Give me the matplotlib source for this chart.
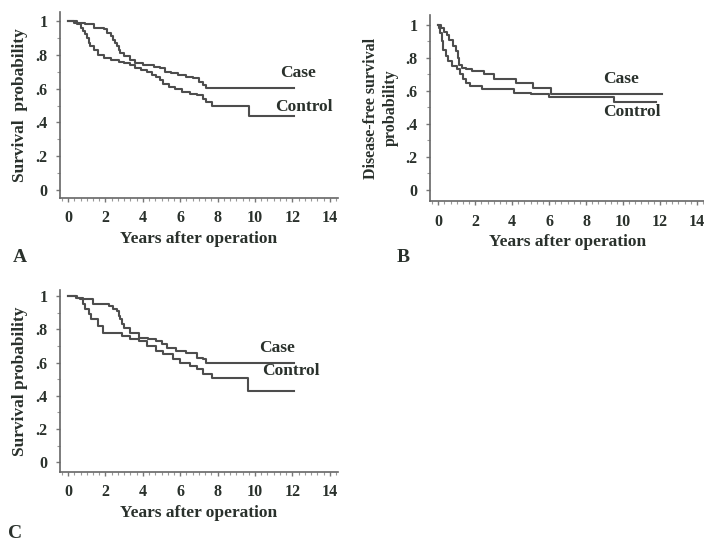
import numpy as np
import matplotlib.pyplot as plt
from matplotlib.ticker import MultipleLocator, FixedLocator

# panel A: overall survival
a_case_t = [0.3, 0.9, 1.4, 1.9, 2.1, 2.3, 2.4, 2.5, 2.6, 2.7, 2.8, 3.0, 3.3, 3.6, 4.0,
            4.6, 4.9, 5.2, 5.5, 5.9, 6.3, 6.7, 7.0, 7.2, 7.4]
a_case_s = [0.99, 0.98, 0.96, 0.95, 0.93, 0.91, 0.89, 0.87, 0.85, 0.83, 0.81, 0.79, 0.77,
            0.75, 0.74, 0.73, 0.72, 0.70, 0.69, 0.68, 0.67, 0.66, 0.64, 0.62, 0.605]
a_ctrl_t = [0.5, 0.7, 0.8, 0.9, 1.0, 1.1, 1.2, 1.4, 1.6, 1.9, 2.3, 2.7, 3.0, 3.3, 3.6,
            3.9, 4.2, 4.5, 4.7, 4.9, 5.1, 5.4, 5.7, 6.1, 6.5, 6.9, 7.2, 7.4, 7.7, 9.7]
a_ctrl_s = [0.98, 0.96, 0.94, 0.92, 0.90, 0.87, 0.85, 0.83, 0.80, 0.78, 0.77, 0.76, 0.75,
            0.74, 0.72, 0.71, 0.70, 0.68, 0.67, 0.65, 0.63, 0.61, 0.60, 0.58, 0.57, 0.56,
            0.54, 0.52, 0.50, 0.44]

# panel B: disease-free survival
b_case_t = [0.15, 0.3, 0.45, 0.6, 0.8, 0.95, 1.05, 1.1, 1.3, 1.5, 1.85, 2.5, 3.0, 4.2,
            5.1, 6.1]
b_case_s = [0.98, 0.96, 0.94, 0.91, 0.87, 0.84, 0.80, 0.76, 0.74, 0.73, 0.72, 0.70,
            0.67, 0.65, 0.62, 0.58]
b_ctrl_t = [0.05, 0.1, 0.2, 0.27, 0.4, 0.54, 0.75, 1.0, 1.2, 1.35, 1.5, 1.7, 2.35, 4.1,
            5.0, 6.0, 9.5]
b_ctrl_s = [0.98, 0.95, 0.90, 0.85, 0.81, 0.78, 0.75, 0.73, 0.70, 0.67, 0.65, 0.63,
            0.61, 0.59, 0.58, 0.565, 0.53]

# panel C: survival
c_case_t = [0.4, 0.8, 1.35, 2.2, 2.4, 2.6, 2.7, 2.8, 2.9, 3.0, 3.3, 3.8, 4.3, 4.7, 5.0,
            5.3, 5.8, 6.3, 6.9, 7.2, 7.4]
c_case_s = [0.99, 0.98, 0.95, 0.94, 0.92, 0.91, 0.88, 0.86, 0.83, 0.81, 0.78, 0.75,
            0.74, 0.73, 0.71, 0.69, 0.67, 0.66, 0.63, 0.62, 0.60]
c_ctrl_t = [0.5, 0.65, 0.8, 0.9, 1.1, 1.25, 1.6, 1.85, 2.9, 3.3, 3.8, 4.2, 4.7, 5.1, 5.6,
            6.0, 6.5, 6.9, 7.2, 7.7, 9.65]
c_ctrl_s = [0.99, 0.98, 0.95, 0.92, 0.89, 0.86, 0.82, 0.78, 0.76, 0.74, 0.73, 0.70,
            0.67, 0.65, 0.62, 0.60, 0.58, 0.56, 0.53, 0.51, 0.43]

t_end_case = 12.1
t_end_ctrl = [12.1, 11.8, 12.1]

plt.rcParams['font.family'] = ['Liberation Serif', 'DejaVu Serif']
plt.rcParams['font.weight'] = 'bold'
text_col = '#2a312c'
line_col = '#4d4d4d'

fig = plt.figure(figsize=(7.04, 5.43), dpi=100)


def km(ax, t, s, t_end):
    x = np.concatenate([[0], t, [t_end]])
    y = np.concatenate([[1.0], s, [s[-1]]])
    ax.step(x, y, where='post', color=line_col, lw=1.5)


def style(ax, ylabel, xlim, ylim):
    ax.set_xlim(*xlim)
    ax.set_ylim(*ylim)
    for sp in ['top', 'right']:
        ax.spines[sp].set_visible(False)
    ax.spines['left'].set_color('#666666')
    ax.spines['bottom'].set_color('#666666')
    ax.spines['left'].set_linewidth(1.2)
    ax.spines['bottom'].set_linewidth(1.2)
    ax.xaxis.set_major_locator(FixedLocator(range(0, 15, 2)))
    ax.xaxis.set_minor_locator(MultipleLocator(1 / 3))
    ax.yaxis.set_major_locator(FixedLocator([0, .2, .4, .6, .8, 1]))
    ax.yaxis.set_minor_locator(MultipleLocator(0.1))
    ax.set_xticklabels([str(v) for v in range(0, 15, 2)])
    ax.set_yticklabels(['0', '.2', '.4', '.6', '.8', '1'])
    ax.tick_params(which='major', length=3, width=1, colors='#777777', labelsize=11.5,
                   labelcolor=text_col, pad=6)
    ax.tick_params(which='minor', length=2, width=0.8, colors='#999999')
    ax.set_xlabel('Years after operation', fontsize=12.5, color=text_col,
                  fontweight='bold', labelpad=3)
    ax.set_ylabel(ylabel, fontsize=12.5, color=text_col, fontweight='bold', labelpad=5)
    for lab in ax.get_xticklabels() + ax.get_yticklabels():
        lab.set_fontweight('bold')


W, H = 704, 543


def add_axes(left, top, right, bottom):
    return fig.add_axes([left / W, (H - bottom) / H, (right - left) / W, (bottom - top) / H])


# A
axA = add_axes(60, 12, 338, 198)
km(axA, a_case_t, a_case_s, t_end_case)
km(axA, a_ctrl_t, a_ctrl_s, t_end_ctrl[0])
style(axA, 'Survival  probability', (-0.43, 14.44), (-0.047, 1.053))
axA.text(12.3, 0.69, 'Case', fontsize=12.5, color=text_col, ha='center', va='center')
axA.text(12.6, 0.49, 'Control', fontsize=12.5, color=text_col, ha='center', va='center')

# B
axB = add_axes(430, 15, 705, 201)
km(axB, b_case_t, b_case_s, t_end_case)
km(axB, b_ctrl_t, b_ctrl_s, t_end_ctrl[1])
style(axB, 'Disease-free survival\nprobability', (-0.45, 14.44), (-0.067, 1.06))
axB.yaxis.label.set_fontsize(11.5)
axB.yaxis.label.set_linespacing(1.25)
axB.text(9.9, 0.67, 'Case', fontsize=12.5, color=text_col, ha='center', va='center')
axB.text(10.5, 0.47, 'Control', fontsize=12.5, color=text_col, ha='center', va='center')

# C
axC = add_axes(60, 290, 338, 472)
km(axC, c_case_t, c_case_s, t_end_case)
km(axC, c_ctrl_t, c_ctrl_s, t_end_ctrl[2])
style(axC, 'Survival probability', (-0.43, 14.44), (-0.058, 1.036))
axC.text(11.2, 0.69, 'Case', fontsize=12.5, color=text_col, ha='center', va='center')
axC.text(11.9, 0.55, 'Control', fontsize=12.5, color=text_col, ha='center', va='center')

fig.text(20 / W, 1 - 258 / H, 'A', fontsize=14, color=text_col, ha='center', va='center')
fig.text(403 / W, 1 - 258 / H, 'B', fontsize=14, color=text_col, ha='center', va='center')
fig.text(15 / W, 1 - 534 / H, 'C', fontsize=14, color=text_col, ha='center', va='center')

fig.savefig('out.png', dpi=100, facecolor='white')
